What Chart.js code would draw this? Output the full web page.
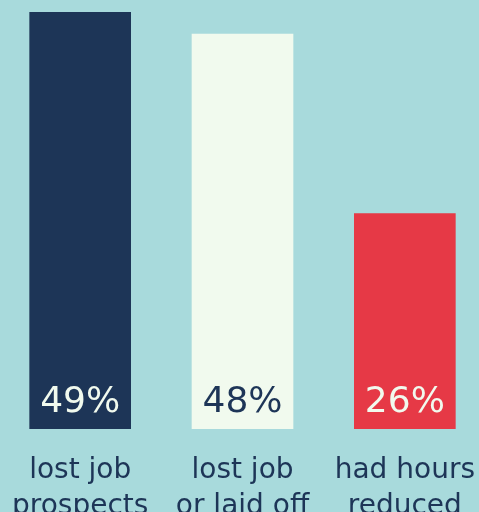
<!DOCTYPE html>
<html>
<head>
<meta charset="utf-8">
<script src="https://cdn.jsdelivr.net/npm/chart.js@4"></script>
<style>
html,body{margin:0;padding:0;background:#a8dadc;overflow:hidden;width:479px;height:512px;}
#c{position:absolute;left:-1px;top:0;}
</style>
</head>
<body>
<canvas id="c" width="487" height="512"></canvas>
<script>
const categories = [["lost job","prospects"],["lost job","or laid off"],["had hours","reduced"]];
const values = [49, 46.4, 25.3];
const valueLabels = ["49%", "48%", "26%"];
const barColors = ["#1d3557", "#f1faee", "#e63946"];
const labelColors = ["#f1faee", "#1d3557", "#f1faee"];
const FONT = "'DejaVu Sans'";

const inBarLabels = {
  id: 'inBarLabels',
  afterDatasetsDraw(chart) {
    const ctx = chart.ctx;
    const meta = chart.getDatasetMeta(0);
    ctx.save();
    ctx.font = "36px " + FONT;
    ctx.textAlign = "center";
    ctx.textBaseline = "alphabetic";
    meta.data.forEach((bar, i) => {
      ctx.fillStyle = labelColors[i];
      ctx.fillText(valueLabels[i], bar.x, bar.base - 17);
    });
    ctx.restore();
  }
};

new Chart(document.getElementById('c'), {
  type: 'bar',
  data: {
    labels: categories,
    datasets: [{ data: values, backgroundColor: barColors, barThickness: 101, borderWidth: 0 }]
  },
  options: {
    responsive: false,
    maintainAspectRatio: false,
    animation: false,
    layout: { padding: { top: 12, left: 0, right: 0, bottom: 0 } },
    plugins: { legend: { display: false }, tooltip: { enabled: false } },
    scales: {
      y: { display: false, min: 0, max: 49 },
      x: {
        grid: { display: false, drawTicks: false },
        border: { display: false },
        ticks: { color: "#1d3557", font: { family: FONT, size: 28, lineHeight: 1.27 }, padding: 24, maxRotation: 0, autoSkip: false },
        afterFit(scale) { scale.height = 83; scale.paddingLeft = 0; scale.paddingRight = 0; }
      }
    }
  },
  plugins: [inBarLabels]
});
</script>
</body>
</html>
